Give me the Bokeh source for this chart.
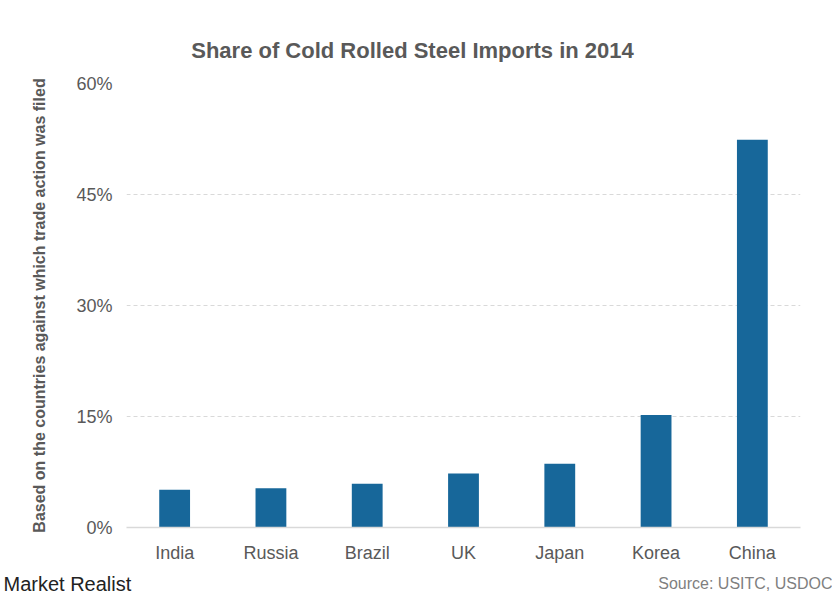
from bokeh.plotting import figure
from bokeh.models import FactorRange, Range1d, FixedTicker, PrintfTickFormatter
from bokeh.layouts import column
from bokeh.core.properties import value
from bokeh.embed import file_html
from bokeh.resources import INLINE

countries = ["India", "Russia", "Brazil", "UK", "Japan", "Korea", "China"]
shares = [5.1, 5.3, 5.9, 7.3, 8.6, 15.2, 52.4]
y_ticks = [0, 15, 30, 45, 60]

title_text = "Share of Cold Rolled Steel Imports in 2014"
y_label = "Based on the countries against which trade action was filed"
source_text = "Source: USITC, USDOC"
brand_text = "Market Realist"

FONT = "Liberation Sans"
TXT = "#595959"
W = 832


def blank(height):
    f = figure(width=W, height=height, output_backend="svg", toolbar_location=None,
               x_range=Range1d(0, W), y_range=Range1d(height, 0), frame_align=False)
    f.min_border = 0
    f.axis.visible = False
    f.grid.visible = False
    f.outline_line_color = None
    return f


# header
head = blank(62)
head.text(x=[412], y=[50], text=[title_text], text_align="center", text_baseline="middle",
          text_font=value(FONT), text_font_size="22px", text_font_style="bold",
          text_color=TXT)

# main chart
p = figure(width=W, height=503, output_backend="svg", toolbar_location=None,
           x_range=FactorRange(factors=countries), y_range=Range1d(0, 60),
           frame_align=False)
p.min_border_left = 126
p.min_border_right = 32
p.min_border_top = 21
p.min_border_bottom = 38
p.outline_line_color = None

p.vbar(x=countries, top=shares, width=0.32, color="#17679a", line_color=None)

p.xgrid.grid_line_color = None
p.ygrid.grid_line_color = "#d9d9d9"
p.ygrid.grid_line_dash = "4 3"
p.ygrid.grid_line_width = 1

p.yaxis.ticker = FixedTicker(ticks=y_ticks)
p.yaxis.formatter = PrintfTickFormatter(format="%d%%")
p.yaxis.axis_line_color = None
p.yaxis.major_tick_line_color = None
p.yaxis.minor_tick_line_color = None
p.yaxis.major_label_text_font = FONT
p.yaxis.major_label_text_font_size = "18px"
p.yaxis.major_label_text_color = TXT
p.yaxis.major_label_standoff = 8
p.yaxis.axis_label = y_label
p.yaxis.axis_label_text_font = FONT
p.yaxis.axis_label_text_font_size = "16px"
p.yaxis.axis_label_text_font_style = "bold"
p.yaxis.axis_label_text_color = TXT
p.yaxis.axis_label_standoff = 25

p.xaxis.axis_line_color = "#d9d9d9"
p.xaxis.axis_line_width = 1.5
p.xaxis.major_tick_line_color = None
p.xaxis.minor_tick_line_color = None
p.xaxis.major_label_text_font = FONT
p.xaxis.major_label_text_font_size = "18px"
p.xaxis.major_label_text_color = TXT
p.xaxis.major_label_standoff = 9

# footer
foot = blank(30)
foot.text(x=[3], y=[18], text=[brand_text], text_align="left", text_baseline="middle",
          text_font=value(FONT), text_font_size="20px", text_color="#222222")
foot.text(x=[832], y=[18], text=[source_text], text_align="right", text_baseline="middle",
          text_font=value(FONT), text_font_size="16px", text_color="#7f7f7f")

layout = column(head, p, foot, spacing=0)
open("out.html", "w").write(file_html(layout, INLINE))
